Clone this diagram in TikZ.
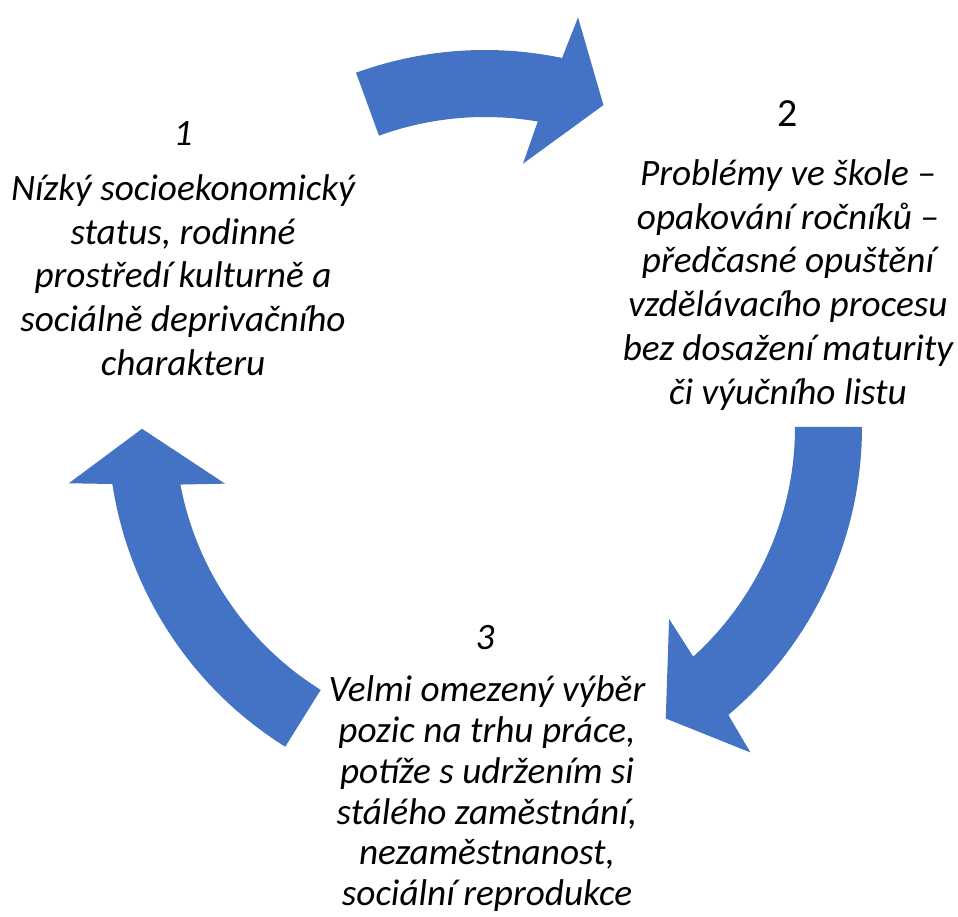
\documentclass[tikz,border=0pt]{standalone}
\usepackage{fontspec}
\setmainfont{Carlito}
\definecolor{cycleblue}{HTML}{4472C4}
\newcommand{\rout}{377}
\newcommand{\rin}{310}

\begin{document}
\begin{tikzpicture}[x=0.02cm, y=0.02cm, every node/.style={inner sep=0pt},
  steptext/.style={align=center, font=\fontsize{21.2}{25}\selectfont\itshape},
  lasttext/.style={align=center, font=\fontsize{21.2}{23.2}\selectfont\itshape}]
\useasboundingbox (0,0) rectangle (958,917);

% curved block arrows round the cycle
\begin{scope}[shift={(485,490)}]
\foreach \tail/\head in {110/78.2, 0/-49.8, 238/188.7} {
\fill[cycleblue] (\tail:\rout) arc[start angle=\tail, end angle=\head, radius=\rout]
  -- (\head-1:420) -- (\head-8.4:343) -- (\head+3.6:266) -- (\head+2:\rin)
  arc[start angle=\head+2, end angle=\tail, radius=\rin] -- cycle;
}
\end{scope}

% step 1
\node[steptext, anchor=base] (num1) at (183,771) {1};
\node[steptext, anchor=north] (step1) at (183,748) {\strut Nízký socioekonomický\\status, rodinné\\prostředí kulturně a\\sociálně deprivačního\\charakteru};

% step 2
\node[anchor=base, font=\fontsize{22.7}{27}\selectfont] (num2) at (788,790) {2};
\node[steptext, anchor=north] (step2) at (788,763) {\strut Problémy ve škole –\\opakování ročníků –\\předčasné opuštění\\vzdělávacího procesu\\bez dosažení maturity\\či výučního listu};

% step 3
\node[steptext, anchor=base] (num3) at (485,267) {3};
\node[lasttext, anchor=north] (step3) at (487,244) {\strut Velmi omezený výběr\\pozic na trhu práce,\\potíže s udržením si\\stálého zaměstnání,\\nezaměstnanost,\\sociální reprodukce};

\end{tikzpicture}
\end{document}
